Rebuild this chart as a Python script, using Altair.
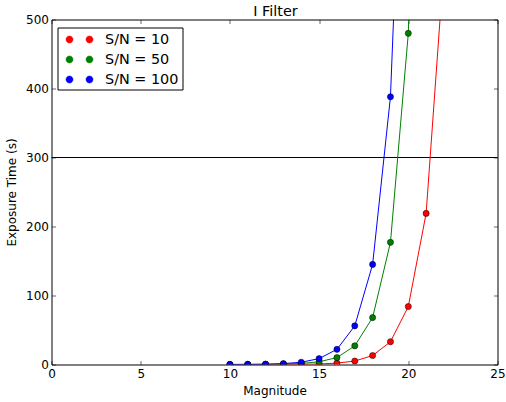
import altair as alt
import pandas as pd

# ---- data ----
magnitudes = [10, 11, 12, 13, 14, 15, 16, 17, 18, 19, 20, 21, 22]
sn10_times = [0.006, 0.016, 0.04, 0.11, 0.3, 0.75, 2, 5, 13, 33, 84, 219, 580]
sn50_times = [0.03, 0.09, 0.22, 0.6, 1.5, 4, 10, 27, 68, 177, 480, 1300, None]
sn100_times = [0.08, 0.2, 0.5, 1.3, 3.3, 8.5, 22, 56, 145, 388, 1040, None, None]
series_labels = ["S/N = 10", "S/N = 50", "S/N = 100"]
series_colors = ["#ff0000", "#008000", "#0000ff"]
x_ticks = [0, 5, 10, 15, 20, 25]
y_ticks = [0, 100, 200, 300, 400, 500]
limit_line = [300]
chart_title = ["I Filter"]

rows = []
for k, (lab, vals) in enumerate(zip(series_labels, [sn10_times, sn50_times, sn100_times])):
    for m, v in zip(magnitudes, vals):
        if v is not None:
            rows.append({"series": lab, "order": k, "mag": m, "time": v})
df = pd.DataFrame(rows)

FONT = "DejaVu Sans"
xscale = alt.Scale(domain=[0, 25], nice=False, zero=False)
yscale = alt.Scale(domain=[0, 500], nice=False)
cscale = alt.Scale(domain=series_labels, range=series_colors)

two_dots = ("M -0.44 0 A 0.44 0.44 0 1 0 0.44 0 A 0.44 0.44 0 1 0 -0.44 0 Z "
            "M 2.06 0 A 0.44 0.44 0 1 0 2.94 0 A 0.44 0.44 0 1 0 2.06 0 Z")

legend = alt.Legend(title=None, orient="none", legendX=6, legendY=8,
                    symbolType=two_dots, symbolSize=256,
                    symbolStrokeColor="black", symbolStrokeWidth=0.5,
                    labelFont=FONT, labelFontSize=14.4, labelColor="black",
                    strokeColor="black", fillColor="white", padding=3.5,
                    rowPadding=5, labelOffset=27, cornerRadius=0)

base = alt.Chart(df)

rule = alt.Chart(pd.DataFrame({"v": limit_line})).mark_rule(color="black", strokeWidth=1).encode(
    y=alt.Y("v:Q", scale=yscale, axis=None)
)

lines = base.mark_line(clip=True, strokeWidth=1).encode(
    x=alt.X("mag:Q", scale=xscale, title="Magnitude",
            axis=alt.Axis(values=x_ticks, orient="bottom", tickSize=0, domain=False, grid=False,
                          labelPadding=4, titlePadding=6, format="d", labelFlush=False)),
    y=alt.Y("time:Q", scale=yscale, title="Exposure Time (s)",
            axis=alt.Axis(values=y_ticks, orient="left", tickSize=0, domain=False, grid=False,
                          labelPadding=3, titlePadding=7, format="d", labelFlush=False)),
    color=alt.Color("series:N", scale=cscale, legend=legend),
    detail="series:N",
)

points = base.mark_circle(clip=True, size=38, opacity=1, stroke="black", strokeWidth=0.5).encode(
    x=alt.X("mag:Q", scale=xscale,
            axis=alt.Axis(values=x_ticks, orient="bottom", offset=-4, tickSize=4, labels=False,
                          domain=False, grid=False, title=None, tickColor="black", tickWidth=0.6)),
    y=alt.Y("time:Q", scale=yscale,
            axis=alt.Axis(values=y_ticks, orient="left", offset=-4, tickSize=4, labels=False,
                          domain=False, grid=False, title=None, tickColor="black", tickWidth=0.6)),
    color=alt.Color("series:N", scale=cscale, legend=legend),
    order=alt.Order("order:Q"),
)

ghost = base.mark_circle(opacity=0, clip=True).encode(
    x=alt.X("mag:Q", scale=xscale,
            axis=alt.Axis(values=x_ticks, orient="top", offset=-4, tickSize=4, labels=False,
                          domain=False, grid=False, title=None, tickColor="black", tickWidth=0.6)),
    y=alt.Y("time:Q", scale=yscale,
            axis=alt.Axis(values=y_ticks, orient="right", offset=-4, tickSize=4, labels=False,
                          domain=False, grid=False, title=None, tickColor="black", tickWidth=0.6)),
)

title = alt.Chart(pd.DataFrame({"t": chart_title})).mark_text(
    font=FONT, fontSize=14.4, color="black", align="center", baseline="alphabetic"
).encode(text="t:N", x=alt.value(224), y=alt.value(-4))

chart = alt.layer(rule, lines, points, ghost, title).resolve_axis(
    x="independent", y="independent"
).properties(
    width=446, height=345,
    autosize=alt.AutoSizeParams(type="none"),
    padding={"left": 51.5, "top": 19.5, "right": 8, "bottom": 38},
).configure(
    background="white"
).configure_view(
    stroke="black", strokeWidth=1
).configure_axis(
    labelFont=FONT, labelFontSize=12, labelColor="black",
    titleFont=FONT, titleFontSize=12, titleColor="black", titleFontWeight="normal",
)

chart.save("out.html", embed_options={"renderer": "svg", "actions": False})
